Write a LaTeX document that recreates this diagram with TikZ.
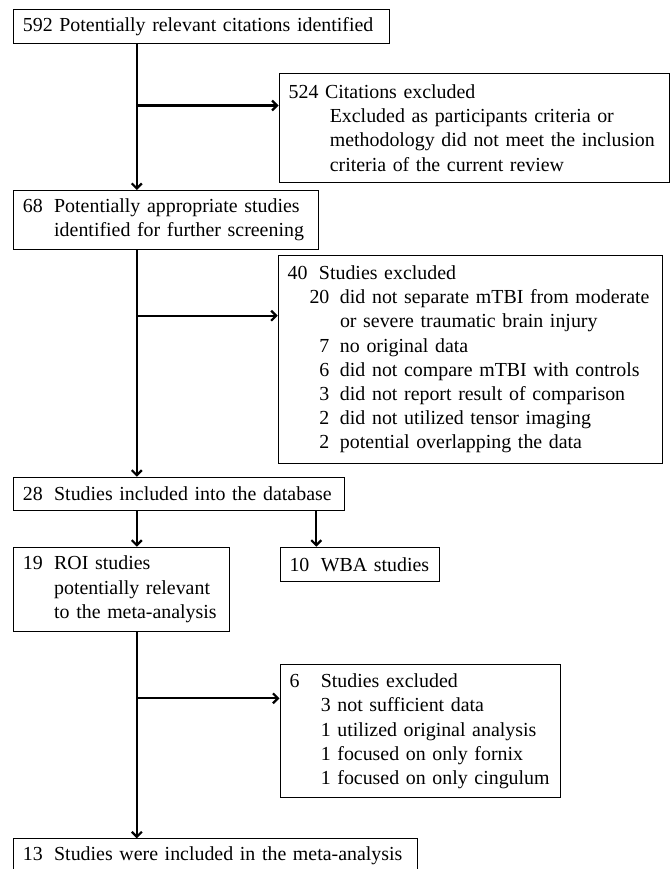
\documentclass[tikz,border=0pt]{standalone}
\usepackage{fontspec}
\setmainfont{Liberation Serif}
\usetikzlibrary{arrows.meta}
\newcommand{\boxfont}{\fontsize{19.9}{24.2}\selectfont\hyphenpenalty=10000}
\newcommand{\nt}[2]{\mbox{\makebox[31.3pt][l]{#1}#2}}
\newcommand{\ind}[1]{\mbox{\hspace*{31.3pt}#1}}
\newcommand{\itm}[2]{\mbox{\makebox[41.7pt][r]{#1}\hspace{10.6pt}#2}}
\tikzset{
	box/.style={draw, line width=1pt, anchor=north west, align=left, inner xsep=9.5pt, inner ysep=0pt, font=\boxfont},
	conn/.style={line width=2.2pt, -{Straight Barb[length=5pt, width=10pt]}}
}
\begin{document}
\begin{tikzpicture}[x=1pt, y=-1pt]
	\useasboundingbox (0,0) rectangle (670,869);
	% boxes
	\node [box, text width=357.3pt, minimum height=34pt] (cit) at (12.9,9.3) {\mbox{592 Potentially relevant citations identified}};
	\node [box, text width=371pt, minimum height=108.4pt] (excla) at (278.6,73.3) {524 Citations excluded
	\\ \mbox{\hspace*{41.2pt}Excluded as participants criteria or}
	\\ \mbox{\hspace*{41.2pt}methodology did not meet the inclusion}
	\\ \mbox{\hspace*{41.2pt}criteria of the current review}};
	\node [box, text width=285.7pt, minimum height=59pt] (appr) at (12.9,190) {\nt{68}{Potentially appropriate studies}
	\\ \ind{identified for further screening}};
	\node [box, text width=365.5pt, minimum height=207.4pt] (exclb) at (277.7,255.3) {\nt{40}{Studies excluded}
	\\ \itm{20}{did not separate mTBI from moderate}
	\\ \mbox{\hspace*{52.3pt}or severe traumatic brain injury}
	\\ \itm{7}{no original data}
	\\ \itm{6}{did not compare mTBI with controls}
	\\ \itm{3}{did not report result of comparison}
	\\ \itm{2}{did not utilized tensor imaging}
	\\ \itm{2}{potential overlapping the data}};
	\node [box, text width=312.3pt, minimum height=33.3pt] (incl) at (12.9,476.7) {\nt{28}{Studies included into the database}};
	\node [box, text width=197.4pt, minimum height=84.3pt] (roi) at (12.9,546.7) {\nt{19}{ROI studies}
	\\ \ind{potentially relevant}
	\\ \ind{to the meta-analysis}};
	\node [box, text width=140.4pt, minimum height=34.3pt] (wba) at (279.5,546.7) {\nt{10}{WBA studies}};
	\node [box, text width=261.7pt, minimum height=133pt] (exclc) at (279.5,664.3) {\nt{6}{Studies excluded}
	\\ \ind{3 not sufficient data}
	\\ \ind{1 utilized original analysis}
	\\ \ind{1 focused on only fornix}
	\\ \ind{1 focused on only cingulum}};
	\node [box, text width=385.1pt, minimum height=34pt] (meta) at (12.9,838.3) {\nt{13}{Studies were included in the meta-analysis}};
	% connectors
	\coordinate (trunk) at (136.8,0);
	\coordinate (side) at (316.3,0);
	\coordinate (ba) at (136.8,105.5);
	\coordinate (bb) at (136.8,315.7);
	\coordinate (bc) at (136.8,698.3);
	\draw [conn] (cit.south -| trunk) -- (appr.north -| trunk);
	\draw [conn] (ba) -- (ba -| excla.west);
	\draw [conn] (appr.south -| trunk) -- (incl.north -| trunk);
	\draw [conn] (bb) -- (bb -| exclb.west);
	\draw [conn] (incl.south -| trunk) -- (roi.north -| trunk);
	\draw [conn] (incl.south -| side) -- (wba.north -| side);
	\draw [conn] (roi.south -| trunk) -- (meta.north -| trunk);
	\draw [conn] (bc) -- (bc -| exclc.west);
\end{tikzpicture}
\end{document}
